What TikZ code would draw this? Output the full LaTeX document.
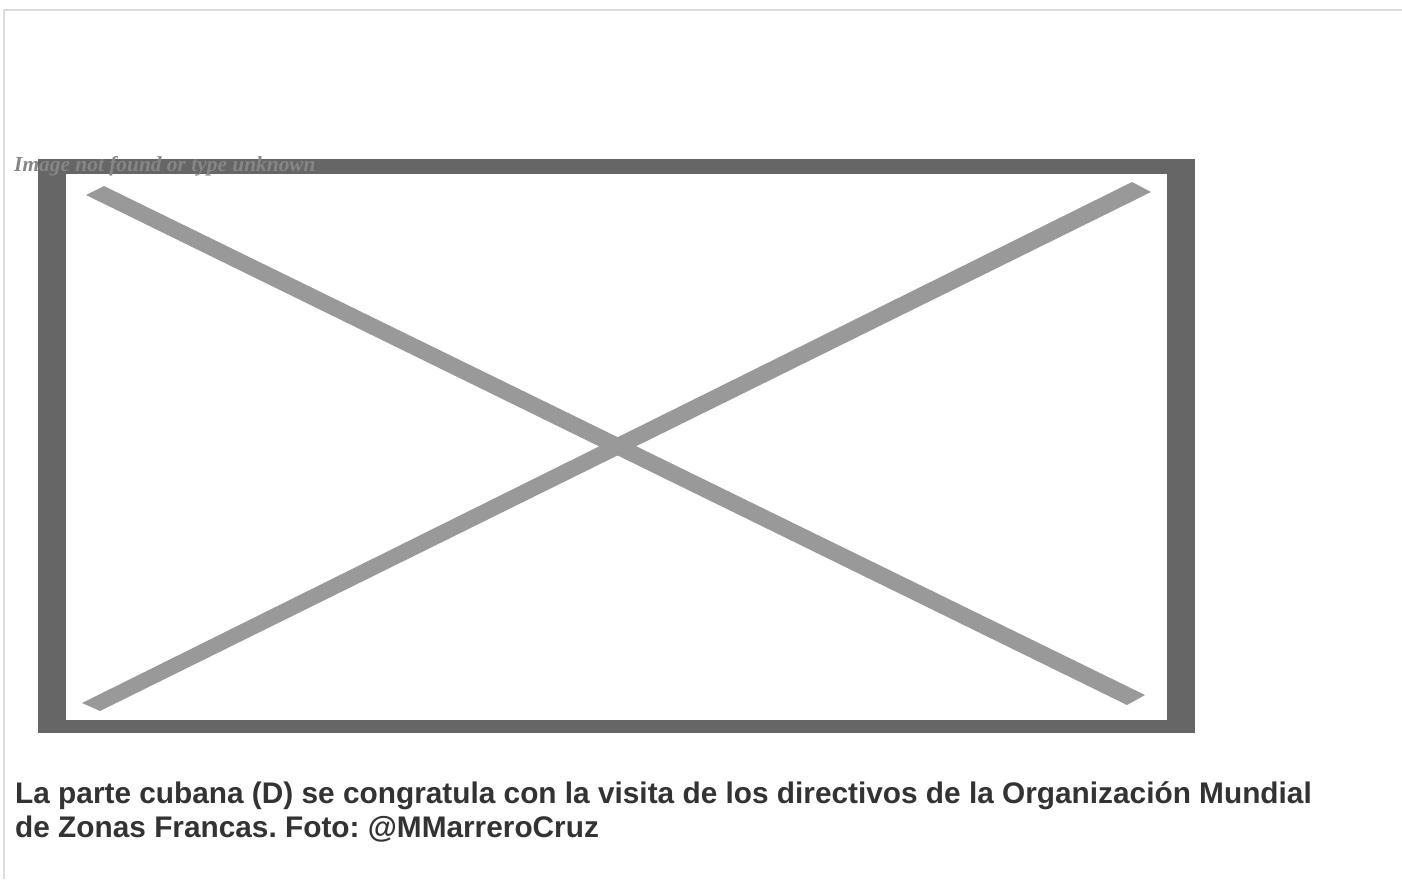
\documentclass[tikz,border=0pt]{standalone}
\usepackage{fontspec}
\setmainfont{Liberation Serif}
\newfontfamily\capfont{Liberation Sans}
\frenchspacing
\definecolor{framegray}{HTML}{666666}
\definecolor{bargray}{HTML}{999999}
\definecolor{edgegray}{HTML}{DDDDDD}
\definecolor{alttext}{HTML}{868686}
\definecolor{captext}{HTML}{333333}
\tikzset{
  captionline/.style={anchor=base west, inner sep=0pt, text=captext, font=\capfont\bfseries\fontsize{29.8}{34}\selectfont},
}
\begin{document}
\begin{tikzpicture}[x=1pt,y=-1pt]
\useasboundingbox (0,0) rectangle (1402,879);
\fill[white] (0,0) rectangle (1402,879);
% page frame
\draw[edgegray, line width=2pt] (4,879) -- (4,10) -- (1402,10);
% placeholder image
\fill[framegray] (38,159) rectangle (1195,733);
\fill[white] (66,174) rectangle (1167,720);
\fill[bargray] (86,195) -- (104,186) -- (1145,695) -- (1127,705) -- cycle;
\fill[bargray] (82,703) -- (1132,182) -- (1151,192) -- (100,711) -- cycle;
\node[anchor=base west, inner sep=0pt, text=alttext, font=\bfseries\itshape\fontsize{21.4}{25}\selectfont] (alt) at (14,171) {Image not found or type unknown};
% caption
\node[captionline] (cap1) at (15,803) {La parte cubana (D) se congratula con la visita de los directivos de la Organización Mundial};
\node[captionline] (cap2) at (15,837) {de Zonas Francas. Foto: @MMarreroCruz};
\end{tikzpicture}
\end{document}
